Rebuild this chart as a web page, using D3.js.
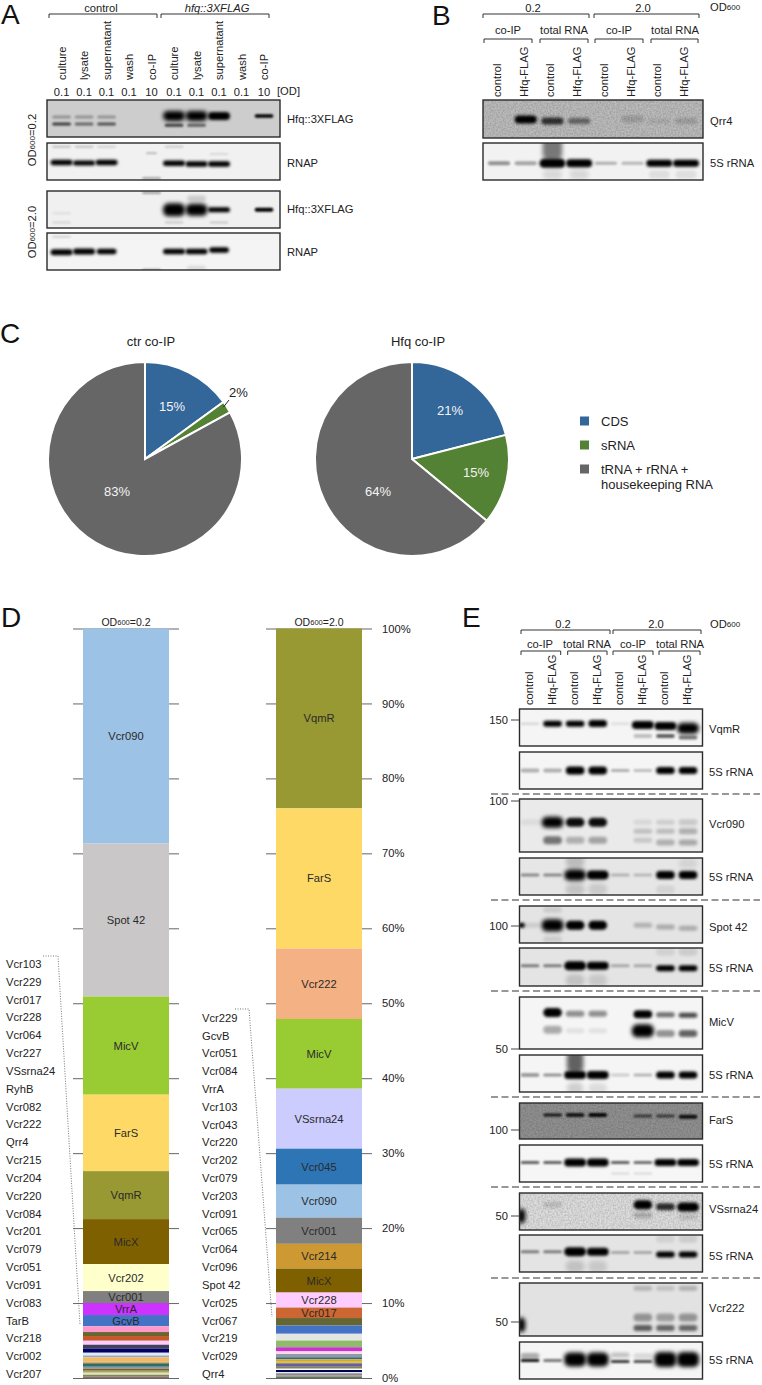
<!DOCTYPE html>
<html><head><meta charset="utf-8">
<script src="https://cdnjs.cloudflare.com/ajax/libs/d3/7.8.5/d3.min.js"></script>
<style>html,body{margin:0;padding:0;background:#fff}svg{display:block}text{font-family:"Liberation Sans",Arial,sans-serif;fill:#222}</style>
</head><body><svg id="c" width="762" height="1385"></svg>
<script>
// ---------- Panel C data
const pieCategories=["CDS","sRNA","tRNA + rRNA + housekeeping RNA"];
const ctrValues=[15,2,83];
const hfqValues=[21,15,64];
const pieColors=["#336699","#548235","#666666"];
// ---------- Panel D data (percent of reads, top to bottom)
const od02Names=["Vcr090","Spot 42","MicV","FarS","VqmR","MicX","Vcr202","Vcr001","VrrA","GcvB"];
const od02Values=[28.7,20.4,13.1,10.2,6.4,6.0,3.6,1.6,1.6,1.5];
const od02Colors=["#9cc2e5","#c9c7c8","#99cc33","#ffd966","#999933","#7f6000","#ffffcc","#808080","#cc33ff","#4472c4"];
const od02MinorValues=[.77,.53,.63,.53,.54,.53,.37,.24,.56,.24,.46,.26,.27,.27,.26,.27,.17];
const od02MinorColors=["#ff99cc","#666633","#c55a28","#ffccff","#404060","#000066","#dfe9f5","#8fa9cc","#f4b860","#e0a858","#2e6b6b","#8a9a9a","#7f5a30","#9caf60","#e8e0c0","#7f8a50","#8a6a70"];
const od20Names=["VqmR","FarS","Vcr222","MicV","VSsrna24","Vcr045","Vcr090","Vcr001","Vcr214","MicX","Vcr228","Vcr017"];
const od20Values=[24.0,18.7,9.4,9.3,8.0,4.8,4.4,3.5,3.3,3.2,2.0,1.4];
const od20Colors=["#999933","#ffd966","#f4b183","#99cc33","#ccccff","#2e75b6","#9cc2e5","#808080","#cc9933","#7f6000","#ffccff","#cc6633"];
const od20MinorValues=[1.0,1.1,.9,.9,.55,.35,.44,.26,.23,.31,.46,.26,.17,.27,.17,.27,.19,.17];
const od20MinorColors=["#666633","#4472c4","#e4e6e4","#8fbc6a","#cc33cc","#ffd8f0","#8f9aa8","#2e6b7b","#d8a040","#d8c830","#6a5aa8","#7f8a40","#ffffff","#000050","#dfe9f5","#8a8a8a","#a08a90","#5a7a5a"];
const od02List=["Vcr103","Vcr229","Vcr017","Vcr228","Vcr064","Vcr227","VSsrna24","RyhB","Vcr082","Vcr222","Qrr4","Vcr215","Vcr204","Vcr220","Vcr084","Vcr201","Vcr079","Vcr051","Vcr091","Vcr083","TarB","Vcr218","Vcr002","Vcr207"];
const od20List=["Vcr229","GcvB","Vcr051","Vcr084","VrrA","Vcr103","Vcr043","Vcr220","Vcr202","Vcr079","Vcr203","Vcr091","Vcr065","Vcr064","Vcr096","Spot 42","Vcr025","Vcr067","Vcr219","Vcr029","Qrr4"];
const percentTicks=[0,10,20,30,40,50,60,70,80,90,100];
// ---------- Panel A / B / E labels
const aLanes=["culture","lysate","supernatant","wash","co-IP","culture","lysate","supernatant","wash","co-IP"];
const aLoads=["0.1","0.1","0.1","0.1","10","0.1","0.1","0.1","0.1","10"];
const rnaLanes=["control","Hfq-FLAG","control","Hfq-FLAG","control","Hfq-FLAG","control","Hfq-FLAG"];
// ---------- Blot bands: [lane, migration (0-1 of the blot), signal (0-1), spread, breadth]
const a1=[[0,.46,.28,3],[1,.46,.28,3],[2,.46,.28,3],[0,.65,.7,3],[1,.65,.5,3],[2,.65,.6,3],[5,.43,1,10,1],[6,.43,1,10,1],[7,.43,1,8,1],[9,.43,1,3.5,.85],[5,.68,.7,3],[6,.68,.55,3]];
const a2=[[0,.53,1,5.5,1],[1,.54,1,5,1],[2,.53,1,5.5,1],[5,.55,1,5.5,1],[6,.57,1,5.5,1],[7,.57,1,5.5,1],[0,.1,.2,2],[1,.1,.2,2],[2,.1,.14,2],[5,.1,.16,2],[7,.3,.1,2],[4,.95,.45,1.5],[4,.28,.3,1.5,.5]];
const a3=[[5,.51,1,13,1],[6,.51,1,12,1],[7,.51,1,5,1],[9,.51,1,4,.85],[4,.05,.4,2],[6,.2,.15,6],[0,.6,.08,2],[0,.85,.12,2],[5,.85,.18,2],[7,.85,.18,2]];
const a4=[[0,.52,1,6,1],[1,.5,1,6,1],[2,.5,1,5.5,.9],[5,.5,1,5.5,1],[6,.5,1,5.5,1],[7,.46,1,5.5,.9],[0,.1,.14,2],[4,.99,.3,2],[6,.95,.1,5]];
const b1=[[1,.51,1,8],[2,.55,.75,7],[3,.55,.45,6],[5,.5,.15,7],[6,.55,.08,5],[7,.55,.15,6]];
const b2=[[0,.55,.4,4],[1,.55,.32,4],[2,.55,1,9,1],[2,.15,.5,24,.75],[2,.85,.1,10,.75],[3,.55,1,8,1],[3,.85,.1,10,.75],[4,.55,.28,3],[5,.55,.25,3],[6,.55,1,7,1],[7,.55,1,7,1],[6,.85,.08,8,.8],[7,.85,.08,8,.8]];
const e1=[[0,.4,.1,3],[1,.4,1,6],[2,.4,1,6],[3,.39,1,7],[4,.4,.08,3],[5,.43,1,8,1],[6,.46,1,8,1],[7,.52,1,11,1],[5,.73,.22,4],[6,.73,.6,4],[7,.77,.5,4]];
const e2=[[0,.5,.28,4],[1,.5,.28,4],[2,.5,1,8],[3,.5,1,8],[4,.5,.28,3],[5,.5,.22,3],[6,.5,1,7],[7,.5,1,7]];
const e3=[[0,.44,.06,6],[1,.44,1,11,1],[2,.44,.95,9],[3,.44,.95,9],[1,.78,.5,8],[2,.78,.25,7],[3,.78,.3,7],[5,.44,.08,5],[5,.61,.18,5],[5,.78,.15,5],[6,.44,.12,5],[6,.61,.2,5],[6,.82,.25,6],[7,.44,.14,6],[7,.61,.25,6],[7,.82,.28,6]];
const e4=[[0,.46,.4,3],[1,.46,.4,3],[2,.46,1,11,1],[3,.46,1,9,1],[2,.1,.18,12],[2,.85,.15,12],[3,.85,.12,12],[4,.46,.22,3],[5,.46,.2,3],[6,.46,1,8],[7,.46,1,8],[7,.15,.08,10],[6,.85,.08,8]];
const e5=[[-.38,.52,1,5,.3],[0,.52,.1,5],[1,.52,1,12,1],[2,.52,1,9],[3,.52,1,9],[5,.52,.22,5],[6,.57,.25,5],[7,.6,.25,5],[1,.1,.1,6],[1,.9,.1,6]];
const e6=[[0,.47,.45,3],[1,.47,.45,3],[2,.47,1,9,1],[3,.47,1,8,1],[2,.85,.15,12],[3,.85,.12,12],[4,.47,.26,3],[5,.47,.26,3],[6,.53,1,6],[7,.53,1,6],[6,.1,.08,8],[7,.1,.1,8]];
const e7=[[1,.3,1,9],[2,.32,.42,6],[3,.32,.42,6],[5,.33,1,8],[6,.34,.55,5],[7,.35,.7,5],[1,.63,.3,8],[2,.65,.08,5],[3,.65,.08,5],[5,.65,1,13,1],[6,.7,.4,7],[7,.7,.6,7]];
const e8=[[0,.54,.36,4],[1,.54,.4,3],[2,.54,1,8,1],[2,.18,.6,22,.75],[2,.9,.15,12,.75],[3,.54,1,8,1],[3,.9,.1,10],[4,.54,.16,3],[5,.54,.26,3],[6,.54,1,7],[7,.54,1,7]];
const e9=[[1,.33,.85,3],[2,.33,.85,4],[3,.33,.95,4],[5,.36,.6,3],[6,.36,.6,3],[7,.38,.9,4]];
const e10=[[0,.47,.6,3],[1,.47,.6,3],[2,.47,1,8,1],[3,.47,1,8,1],[4,.47,.6,3],[5,.47,.55,3],[6,.47,1,7,1],[7,.47,1,7,1],[4,.77,.12,2],[5,.77,.12,2]];
const e11=[[-.38,.62,1,15,.35],[1,.32,.12,6],[5,.32,1,9],[6,.37,.8,7],[7,.38,1,9,1],[5,.6,.2,6],[7,.65,.12,5]];
const e12=[[0,.45,.45,3],[1,.45,.45,3],[2,.45,1,9,1],[3,.45,1,8,1],[2,.85,.15,12],[3,.85,.12,12],[4,.47,.26,3],[5,.47,.26,3],[6,.53,1,6],[7,.53,1,6],[6,.1,.08,8],[7,.1,.1,8]];
const e13=[[-.38,.79,1,15,.35],[5,.1,.2,5],[6,.1,.15,5],[7,.1,.22,5],[5,.65,.35,8],[6,.65,.3,8],[7,.65,.35,8],[5,.85,.6,6],[6,.85,.55,6],[7,.85,.55,6]];
const e14=[[0,.5,.9,3],[0,.38,.3,6],[1,.5,.5,3],[2,.47,1,14,1],[3,.47,1,14,1],[4,.53,.75,3],[4,.35,.2,5],[5,.53,.65,3],[5,.38,.12,5],[6,.47,1,15,1],[7,.47,1,15,1]];

const svg=d3.select("#c");
const defs=svg.append("defs");
[[1,"b0"],[1.4,"b1"],[2,"b2"]].forEach(([s,id])=>{defs.append("filter").attr("id",id).attr("x","-40%").attr("y","-200%").attr("width","180%").attr("height","500%").append("feGaussianBlur").attr("stdDeviation",s);});
const grain=defs.append("filter").attr("id","grain").attr("x",0).attr("y",0).attr("width","100%").attr("height","100%");
grain.append("feTurbulence").attr("type","fractalNoise").attr("baseFrequency",.6).attr("numOctaves",2).attr("seed",3);
grain.append("feColorMatrix").attr("values","0 0 0 0 0  0 0 0 0 0  0 0 0 0 0  .3 0 0 0 -.09");

function txt(g,x,y,s,o={}){
  const t=g.append("text").attr("x",x).attr("y",y).attr("dominant-baseline","central").attr("font-size",o.size||11.2).attr("text-anchor",o.anchor||"start");
  if(o.color)t.style("fill",o.color); if(o.italic)t.attr("font-style","italic");
  if(o.rotate)t.attr("transform",`rotate(-90,${x},${y})`);
  if(o.sub){const m=s.match(/^(.*?OD)(600)(.*)$/);t.append("tspan").text(m[1]);t.append("tspan").attr("font-size",(o.size||11.2)*.72).text(m[2]);t.append("tspan").text(m[3]);}
  else t.text(s);
  return t;
}
function bracket(g,x0,x1,y,d=4){
  g.append("path").attr("d",d3.line()([[x0,y+d],[x0,y],[x1,y],[x1,y+d]])).attr("fill","none").attr("stroke","#333").attr("stroke-width",1);
}
let clipN=0;
function blot(g,x0,x1,y0,y1,bg,bands,laneX,laneW,grainy){
  const id="clip"+(clipN++);
  defs.append("clipPath").attr("id",id).append("rect").attr("x",x0).attr("y",y0).attr("width",x1-x0).attr("height",y1-y0);
  const my=d3.scaleLinear().domain([0,1]).range([y0,y1]);
  const op=d3.scaleLinear().domain([0,1]).range([0,1]);
  const b=g.append("g").attr("clip-path",`url(#${id})`);
  b.append("rect").attr("x",x0).attr("y",y0).attr("width",x1-x0).attr("height",y1-y0).attr("fill",bg);
  if(grainy)b.append("rect").attr("x",x0).attr("y",y0).attr("width",x1-x0).attr("height",y1-y0).attr("filter","url(#grain)");
  b.selectAll("rect.band").data(bands).join("rect").attr("class","band")
    .attr("x",d=>laneX(d[0])-laneW*(d[4]||.85)/2).attr("width",d=>laneW*(d[4]||.85))
    .attr("y",d=>my(d[1])-d[3]/2).attr("height",d=>d[3])
    .attr("rx",d=>Math.min(d[3]/2,laneW*.25))
    .attr("fill","#000").attr("opacity",d=>op(d[2]))
    .attr("filter",d=>d[3]>=10?"url(#b2)":d[3]>=5?"url(#b1)":"url(#b0)");
  g.append("rect").attr("x",x0).attr("y",y0).attr("width",x1-x0).attr("height",y1-y0).attr("fill","none").attr("stroke","#2a2a2a").attr("stroke-width",1.4);
}
// Panel letters
[["A",1,14],["B",432,15],["C",0,333],["D",1,617],["E",462,617]].forEach(([s,x,y])=>txt(svg,x,y,s,{size:28,color:"#111"}));

// ---------- Panel A
const gA=svg.append("g");
const xA=d3.scaleLinear().domain([0,9]).range([61.6,264]);
txt(gA,101,7.5,"control",{anchor:"middle"});
txt(gA,217,7.5,"hfq::3XFLAG",{anchor:"middle",italic:true});
bracket(gA,49,157,14); bracket(gA,161,269,14);
aLanes.forEach((s,i)=>txt(gA,xA(i),80,s,{rotate:true,anchor:"start"}));
aLoads.forEach((s,i)=>txt(gA,xA(i),92,s,{anchor:"middle"}));
txt(gA,277,91,"[OD]");
blot(gA,47,280,100,137,"#cdcdcd",a1,xA,22);
blot(gA,47,280,143,180,"#f1f1f1",a2,xA,22);
blot(gA,47,280,191,228,"#f0f0f0",a3,xA,22);
blot(gA,47,280,233,270,"#f4f4f4",a4,xA,22);
[["Hfq::3XFLAG",119],["RNAP",163],["Hfq::3XFLAG",209],["RNAP",252]].forEach(([s,y])=>txt(gA,287,y,s));
txt(gA,32,140,"OD600=0.2",{rotate:true,anchor:"middle",sub:true});
txt(gA,32,232,"OD600=2.0",{rotate:true,anchor:"middle",sub:true});

// ---------- Panel B
const gB=svg.append("g");
const xB=d3.scaleLinear().domain([0,7]).range([499,686]);
txt(gB,533,8,"0.2",{anchor:"middle"}); txt(gB,643,8,"2.0",{anchor:"middle"});
txt(gB,710,7,"OD600",{sub:true});
bracket(gB,483,589,14); bracket(gB,594,699,14);
[["co-IP",508],["total RNA",564],["co-IP",619],["total RNA",675]].forEach(([s,x])=>txt(gB,x,30,s,{anchor:"middle"}));
[[484,532],[540,588],[595,643],[651,698]].forEach(([a,b])=>bracket(gB,a,b,39));
rnaLanes.forEach((s,i)=>txt(gB,xB(i)-2,97,s,{rotate:true}));
blot(gB,483,703,100,138,"#bcbcbc",b1,xB,26,true);
blot(gB,483,703,143,180,"#f2f2f2",b2,xB,26);
txt(gB,710,121,"Qrr4"); txt(gB,710,163,"5S rRNA");

// ---------- Panel C
const gC=svg.append("g");
const pie=d3.pie().sort(null);
const arc=d3.arc().innerRadius(0).outerRadius(97);
function drawPie(cx,cy,vals){
  const g=gC.append("g").attr("transform",`translate(${cx},${cy})`);
  g.selectAll("path").data(pie(vals)).join("path").attr("d",arc).attr("fill",(d,i)=>pieColors[i]).attr("stroke","#fff").attr("stroke-width",2);
}
drawPie(145,459,ctrValues); drawPie(412,459,hfqValues);
txt(gC,151,341,"ctr co-IP",{anchor:"middle",size:13});
txt(gC,418,341,"Hfq co-IP",{anchor:"middle",size:13});
[[172,406,ctrValues[0]],[117,491,ctrValues[2]],[450,410,hfqValues[0]],[476,472,hfqValues[1]],[378,491,hfqValues[2]]].forEach(([x,y,v])=>txt(gC,x,y,v+"%",{anchor:"middle",size:13,color:"#f4f4f4"}));
txt(gC,238.5,392,ctrValues[1]+"%",{anchor:"middle",size:13});
gC.append("line").attr("x1",229).attr("y1",400).attr("x2",223.5).attr("y2",407).attr("stroke","#222");
pieColors.forEach((c,i)=>gC.append("rect").attr("x",580).attr("y",[421,445,469][i]-4.5).attr("width",9).attr("height",9).attr("fill",c));
txt(gC,601,421,pieCategories[0],{size:13}); txt(gC,601,445,pieCategories[1],{size:13});
txt(gC,601,469,"tRNA + rRNA +",{size:13}); txt(gC,601,484,"housekeeping RNA",{size:13});

// ---------- Panel D
const gD=svg.append("g");
const y=d3.scaleLinear().domain([0,100]).range([1378,628.5]);
function stackBar(x0,x1,names,vals,cols,mvals,mcols,labels){
  const ax=gD.append("g").attr("transform",`translate(${x1+10},0)`)
    .call(d3.axisRight(y).tickValues(percentTicks).tickSizeOuter(0).tickFormat(d=>labels?d+"%":""));
  ax.select(".domain").remove();
  ax.selectAll(".tick line").attr("x1",-(x1-x0)-20).attr("x2",0).attr("stroke","#666");
  ax.selectAll(".tick text").attr("x",10).attr("font-size",11.2).attr("font-family",'"Liberation Sans",Arial,sans-serif').style("fill","#222");
  const all=vals.concat(mvals), colors=cols.concat(mcols);
  const cum=d3.cumsum(all);
  gD.selectAll(null).data(all).join("rect").attr("x",x0).attr("width",x1-x0)
    .attr("y",(d,i)=>y(100-(cum[i]-d))).attr("height",(d,i)=>y(100-cum[i])-y(100-(cum[i]-d))).attr("fill",(d,i)=>colors[i]);
  names.forEach((n,i)=>txt(gD,(x0+x1)/2,(y(100-(cum[i]-vals[i]))+y(100-cum[i]))/2,n,{anchor:"middle",color:"#2a2a2a"}));
}
stackBar(83,169,od02Names,od02Values,od02Colors,od02MinorValues,od02MinorColors,false);
stackBar(276,362,od20Names,od20Values,od20Colors,od20MinorValues,od20MinorColors,true);
txt(gD,126,622,"OD600=0.2",{anchor:"middle",size:10.5,sub:true});
txt(gD,319,622,"OD600=2.0",{anchor:"middle",size:10.5,sub:true});
const yL=d3.scalePoint().domain(od02List).range([964,1374]);
od02List.forEach(s=>txt(gD,6,yL(s),s));
const yR=d3.scalePoint().domain(od20List).range([1017.7,1374]);
od20List.forEach(s=>txt(gD,202,yR(s),s));
gD.append("path").attr("d",d3.line()([[43,956],[58,956],[80,1325]])).attr("fill","none").attr("stroke","#555").attr("stroke-width",.8).attr("stroke-dasharray","1 1.5");
gD.append("path").attr("d",d3.line()([[235,1009],[249,1009],[272,1317]])).attr("fill","none").attr("stroke","#555").attr("stroke-width",.8).attr("stroke-dasharray","1 1.5");

// ---------- Panel E
const gE=svg.append("g");
const xE=d3.scaleLinear().domain([0,7]).range([530,688]);
txt(gE,563,624,"0.2",{anchor:"middle"}); txt(gE,656,624,"2.0",{anchor:"middle"});
txt(gE,710,624,"OD600",{sub:true});
bracket(gE,521,610,630); bracket(gE,613,701,630);
[["co-IP",540],["total RNA",587],["co-IP",633],["total RNA",680]].forEach(([s,x])=>txt(gE,x,644,s,{anchor:"middle"}));
[[521,560.7],[567.7,607],[613,653],[659,700]].forEach(([a,b])=>bracket(gE,a,b,651));
rnaLanes.forEach((s,i)=>txt(gE,xE(i)-1,705,s,{rotate:true}));
const eRows=[
 [709,746,"#f5f5f5",e1,"VqmR",729,0],[752,789,"#f5f5f5",e2,"5S rRNA",772,0],
 [799,852,"#eaeaea",e3,"Vcr090",824,0],[858,895,"#e6e6e6",e4,"5S rRNA",877,0],
 [906,943,"#e4e4e4",e5,"Spot 42",927,0],[948,986,"#e4e4e4",e6,"5S rRNA",968,0],
 [997,1049,"#f5f5f5",e7,"MicV",1022,0],[1055,1092,"#f5f5f5",e8,"5S rRNA",1075,0],
 [1103,1139,"#919191",e9,"FarS",1120,1],[1145,1182,"#f6f6f6",e10,"5S rRNA",1164,0],
 [1193,1230,"#dedede",e11,"VSsrna24",1209,1],[1235,1272,"#e4e4e4",e12,"5S rRNA",1256,0],
 [1283,1336,"#e2e2e2",e13,"Vcr222",1308,0],[1342,1379,"#f5f5f5",e14,"5S rRNA",1360,0]];
eRows.forEach(r=>{blot(gE,519.5,702.5,r[0],r[1],r[2],r[3],xE,22,r[6]);txt(gE,709,r[5],r[4]);});
const sizeMarks=[["150",720],["100",801],["100",926],["50",1049],["100",1130],["50",1216],["50",1322]];
sizeMarks.forEach(([s,yy])=>{txt(gE,508,yy,s,{anchor:"end"});gE.append("line").attr("x1",511).attr("x2",519).attr("y1",yy).attr("y2",yy).attr("stroke","#444");});
[794,900,991,1097,1187,1278].forEach(yy=>gE.append("line").attr("x1",491).attr("x2",760).attr("y1",yy).attr("y2",yy).attr("stroke","#333").attr("stroke-width",1.1).attr("stroke-dasharray","7 3.5"));
</script></body></html>
